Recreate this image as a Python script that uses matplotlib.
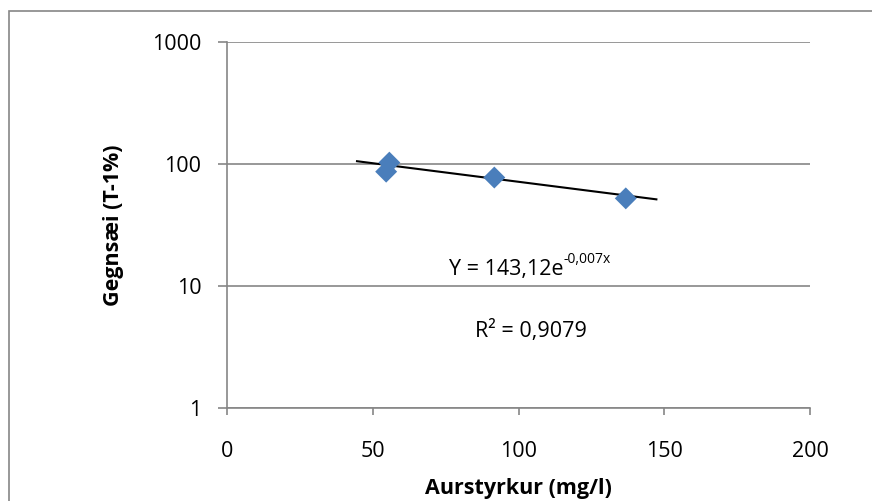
import numpy as np
import matplotlib.pyplot as plt
from matplotlib.patches import Rectangle
from matplotlib.ticker import FixedLocator, FixedFormatter

plt.rcParams['font.family'] = ['Open Sans', 'DejaVu Sans']

W, H = 872, 501

# measured points
aurstyrkur = [55.7, 54.6, 91.7, 136.8]
gegnsaei = [102, 86, 77, 52]

# exponential trend from the chart label
a_coef = 143.12
b_coef = -0.007
trend_range = [44.6, 147.3]

x_ticks = [0, 50, 100, 150, 200]
y_ticks = [1, 10, 100, 1000]
y_labels = ['1', '10', '100', '1000']

grey = '#868686'
fs = 15.5

fig = plt.figure(figsize=(W / 100, H / 100), dpi=100)
# outer chart border (runs off the right and bottom edges)
fig.patches.append(Rectangle((9 / W, -0.1), 1.2, 1 - 11 / H + 0.1,
                             transform=fig.transFigure, fill=False,
                             edgecolor=grey, linewidth=1.2))

ax = fig.add_axes([227 / W, 1 - 408 / H, (810 - 227) / W, (408 - 41.5) / H])
ax.set_yscale('log')
ax.set_xlim(0, 200)
ax.set_ylim(1, 1000)

ax.yaxis.set_major_locator(FixedLocator(y_ticks))
ax.yaxis.set_major_formatter(FixedFormatter(y_labels))
ax.yaxis.set_minor_locator(FixedLocator([]))
ax.set_xticks(x_ticks)

ax.grid(axis='y', color=grey, linewidth=1.2)
ax.set_axisbelow(True)
for side in ['top', 'right']:
    ax.spines[side].set_visible(False)
for side in ['left', 'bottom']:
    ax.spines[side].set_color(grey)
    ax.spines[side].set_linewidth(1.2)
ax.tick_params(axis='y', color=grey, width=1.2, length=6.5, labelsize=fs,
               labelcolor='black', pad=12)
ax.tick_params(axis='x', color=grey, width=1.2, length=5, labelsize=fs,
               labelcolor='black', pad=18.5)

xs = np.array(trend_range)
ax.plot(xs, a_coef * np.exp(b_coef * xs), color='black', linewidth=1.5, zorder=3)
ax.scatter(aurstyrkur, gegnsaei, marker='D', s=125, color='#4a7ebb',
           edgecolors='none', zorder=4)

eq = fig.text(449 / W, 1 - 275 / H, 'Y = 143,12e', ha='left', va='baseline',
              fontsize=fs)
ax.annotate('-0,007x', xy=(1, 0.62), xycoords=eq, ha='left', va='bottom',
            fontsize=10)
fig.text(475 / W, 1 - 337 / H, 'R² = 0,9079', ha='left', va='baseline',
         fontsize=fs)

fig.text(518 / W, 1 - 494 / H, 'Aurstyrkur (mg/l)', ha='center', va='baseline',
         fontsize=fs, fontweight='bold')
fig.text(113 / W, 1 - 225 / H, 'Gegnsæi (T-1%)', ha='center', va='center',
         rotation=90, fontsize=fs, fontweight='bold')

fig.savefig('out.png', dpi=100)
